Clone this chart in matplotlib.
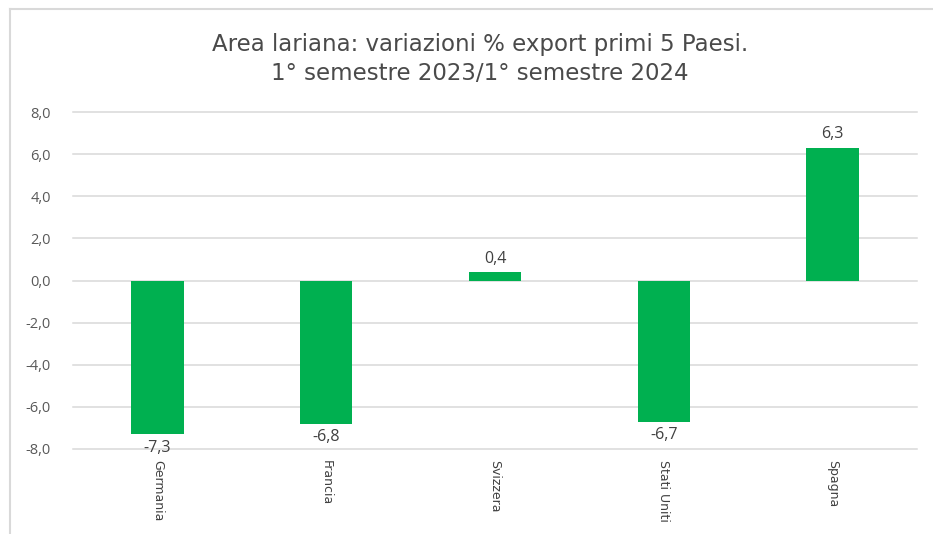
import matplotlib
matplotlib.use("Agg")
import matplotlib.pyplot as plt
import matplotlib.lines as mlines
import numpy as np

paesi = ["Germania", "Francia", "Svizzera", "Stati Uniti", "Spagna"]
variazioni = [-7.3, -6.8, 0.4, -6.7, 6.3]
titolo = "Area lariana: variazioni % export primi 5 Paesi.\n1° semestre 2023/1° semestre 2024"

verde = "#00B050"
grigio_griglia = "#d9d9d9"

fig = plt.figure(figsize=(9.33, 5.34), dpi=100)
ax = fig.add_axes([73 / 933, 85 / 534, 844 / 933, 337 / 534])

x = np.arange(len(paesi))
ax.bar(x, variazioni, width=0.31, color=verde, zorder=3)

ax.set_ylim(-8, 8)
ax.set_xlim(-0.5, len(paesi) - 0.5)
ax.set_yticks(np.arange(-8, 9, 2))
ax.set_yticklabels([f"{v:.1f}".replace(".", ",") for v in np.arange(-8, 9, 2)],
                   fontfamily="Open Sans", fontsize=10.5, color="#595959")
ax.yaxis.grid(True, color=grigio_griglia, linewidth=1.1, zorder=0)
for gl in ax.get_ygridlines():
    gl.set_clip_on(False)
ax.tick_params(axis="y", length=0, pad=16)
ax.tick_params(axis="x", length=0, pad=8)

ax.set_xticks(x)
ax.set_xticklabels(paesi, rotation=270, fontsize=9, color="#404040",
                   fontfamily="DejaVu Sans", va="top", ha="center")

for s in ax.spines.values():
    s.set_visible(False)

# etichette dati
for xi, v in zip(x, variazioni):
    testo = f"{v:.1f}".replace(".", ",")
    if v >= 0:
        ax.annotate(testo, (xi, v), xytext=(0, 4), textcoords="offset points",
                    ha="center", va="bottom", fontsize=11.5, color="#404040",
                    fontfamily="Open Sans")
    else:
        ax.annotate(testo, (xi, v), xytext=(0, -4), textcoords="offset points",
                    ha="center", va="top", fontsize=11.5, color="#404040",
                    fontfamily="Open Sans")

fig.text(480 / 933, 1 - 59 / 534, titolo, ha="center", va="center",
         fontsize=16.5, color="#4a4a4a", fontfamily="DejaVu Sans", linespacing=1.35)

# cornice del grafico
fig.add_artist(mlines.Line2D([10 / 933, 1.0], [1 - 9 / 534, 1 - 9 / 534],
                             color=grigio_griglia, linewidth=1.5))
fig.add_artist(mlines.Line2D([10 / 933, 10 / 933], [0, 1 - 9 / 534],
                             color=grigio_griglia, linewidth=1.5))

fig.savefig("out.png", dpi=100, facecolor="white")
